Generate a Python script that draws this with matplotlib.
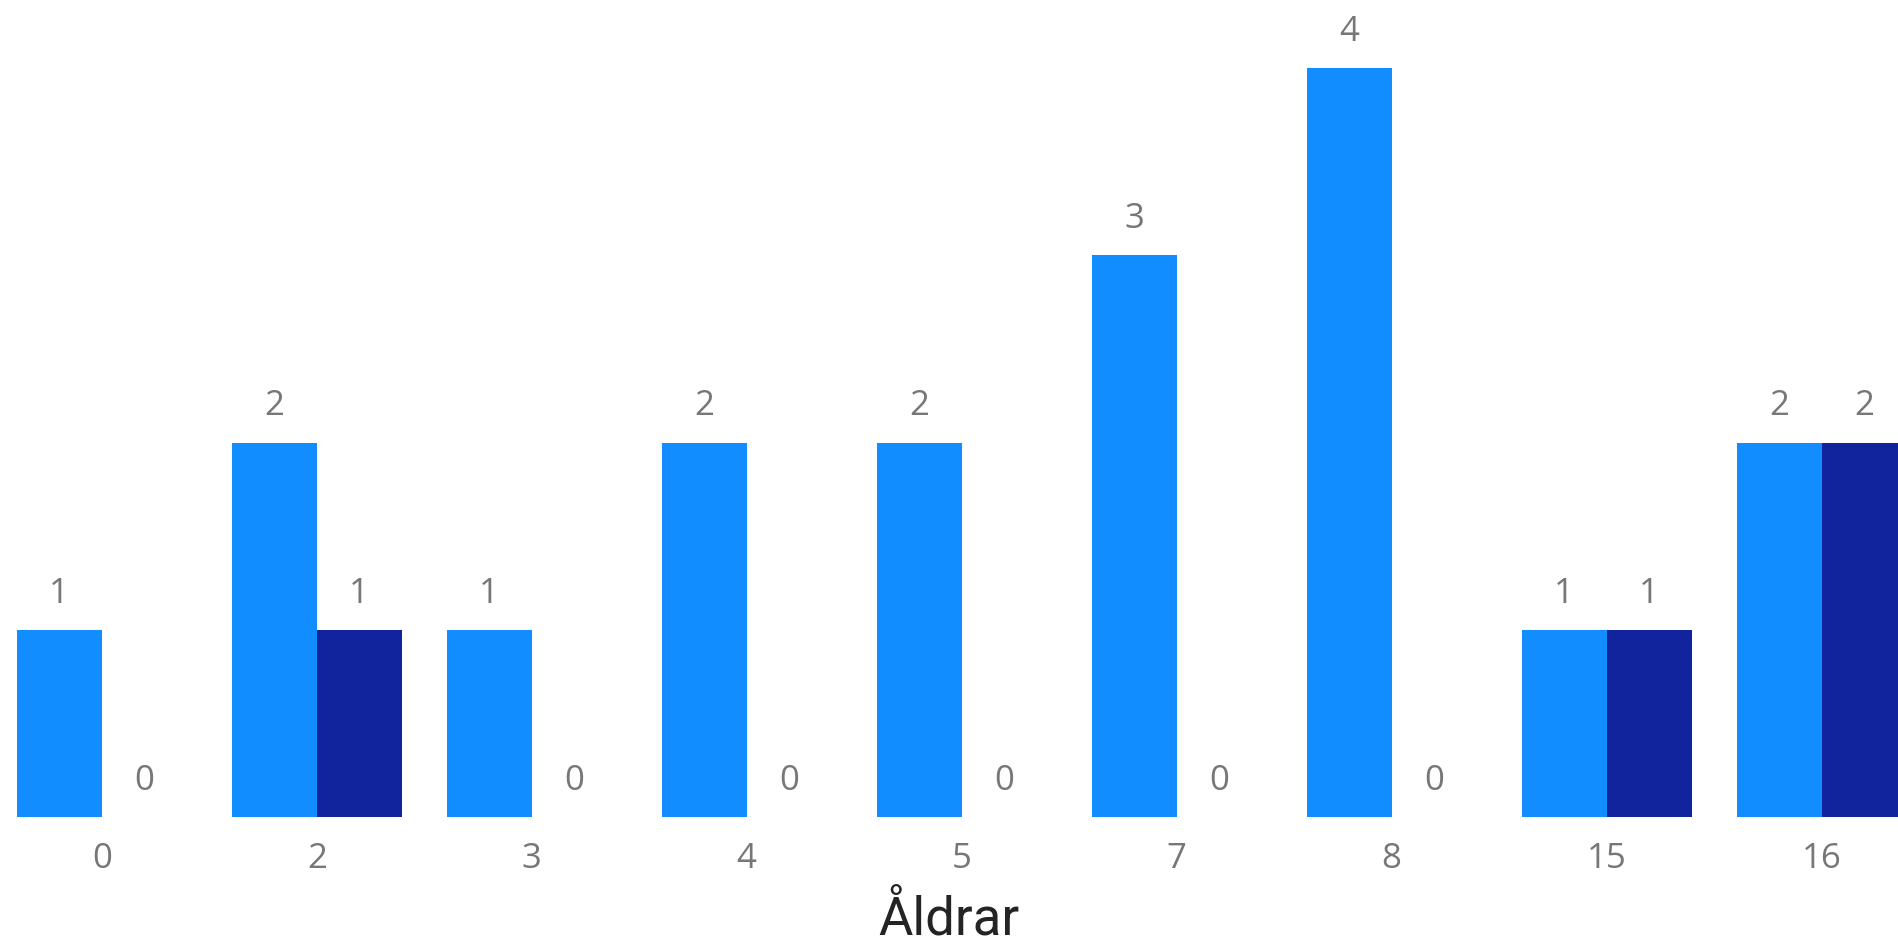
import matplotlib.pyplot as plt
import numpy as np

# age groups and counts per series
ages = ['0', '2', '3', '4', '5', '7', '8', '15', '16']
series_a = [1, 2, 1, 2, 2, 3, 4, 1, 2]
series_b = [0, 1, 0, 0, 0, 0, 0, 1, 2]

color_a = '#118DFF'
color_b = '#12239E'
label_color = '#777777'

fig = plt.figure(figsize=(18.98, 9.47), dpi=100)
ax = fig.add_axes([0, 0.137, 1, 0.863])

x = np.arange(len(ages))
w = 0.395
bars_a = ax.bar(x - w/2, series_a, width=w, color=color_a, linewidth=0)
bars_b = ax.bar(x + w/2, series_b, width=w, color=color_b, linewidth=0)

for bars, vals in [(bars_a, series_a), (bars_b, series_b)]:
    for b, v in zip(bars, vals):
        ax.annotate(str(v), (b.get_x() + b.get_width()/2, v),
                    xytext=(0, 14), textcoords='offset points',
                    ha='center', va='bottom', fontsize=25,
                    color=label_color, family='Open Sans')

ax.set_xlim(-0.473, 8.355)
ax.set_ylim(0, 4.364)
ax.set_xticks(x)
ax.set_xticklabels(ages, fontsize=25, color=label_color, family='Open Sans')
ax.tick_params(axis='x', length=0, pad=18)
ax.set_yticks([])
for s in ax.spines.values():
    s.set_visible(False)

ax.set_xlabel('Åldrar', fontsize=38, color='#252423', family='Roboto',
              labelpad=13)

fig.savefig('out.png', dpi=100)
